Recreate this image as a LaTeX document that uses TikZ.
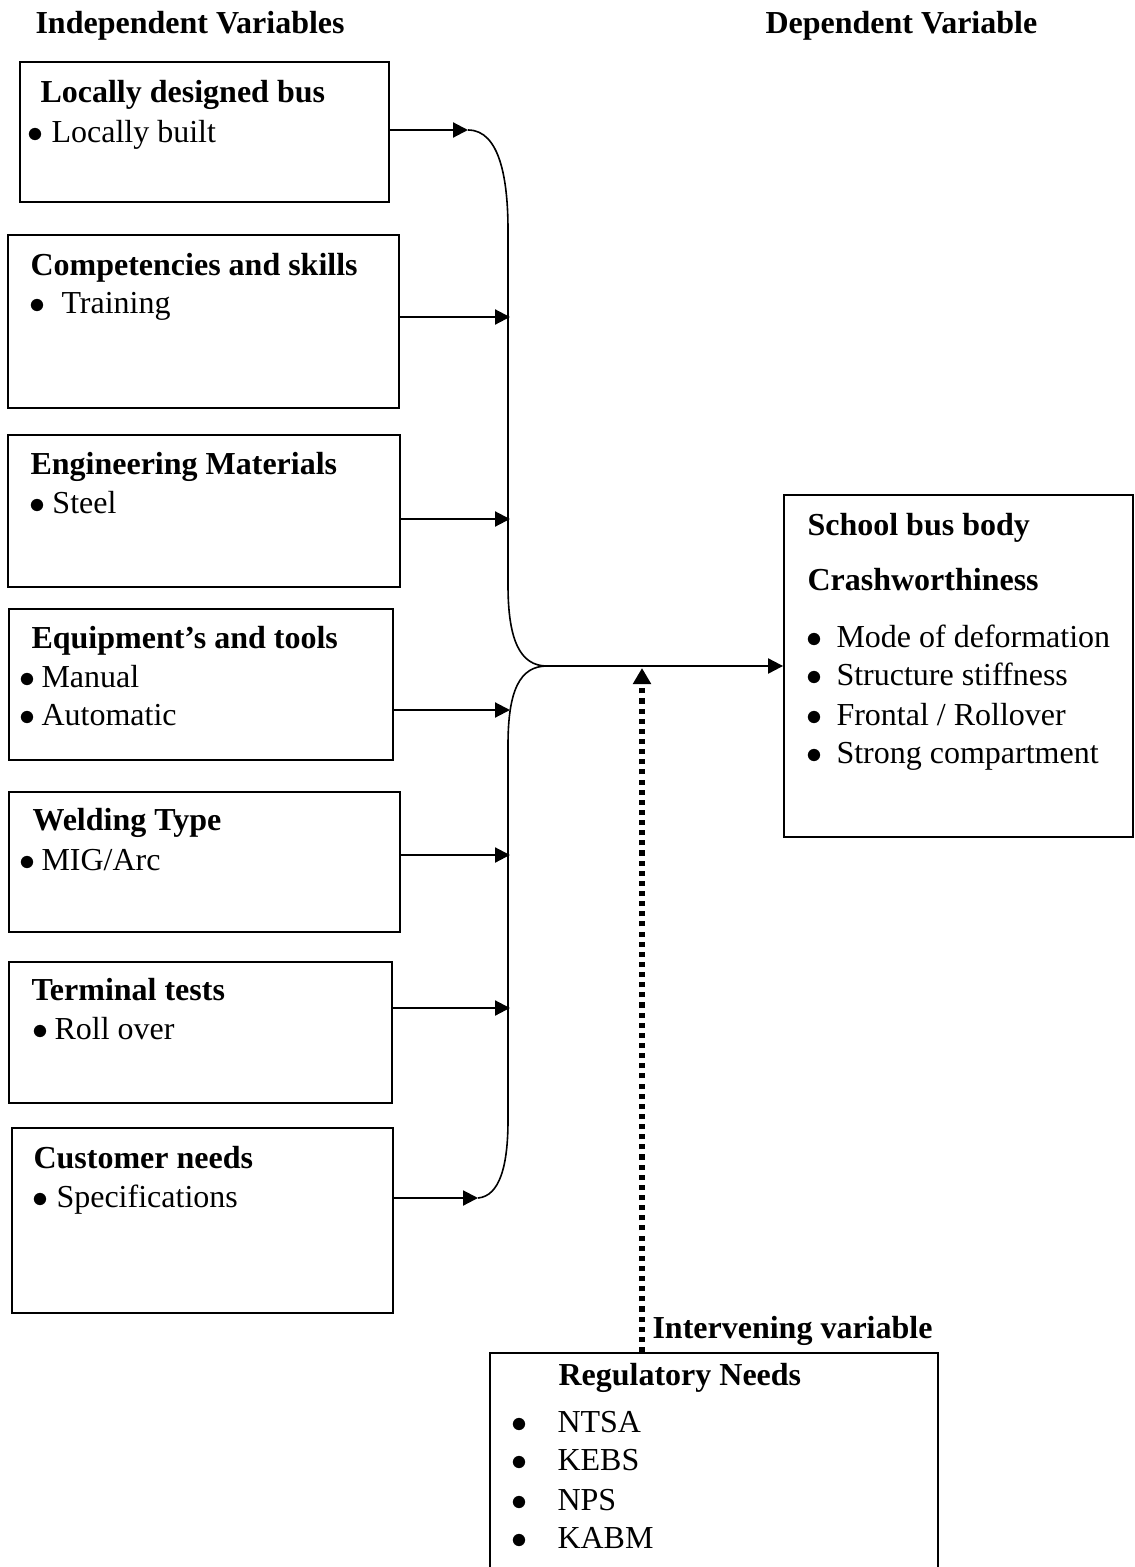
\documentclass[tikz,border=0pt,12pt]{standalone}
\usepackage{fontspec}
\setmainfont{Liberation Serif}
\usetikzlibrary{fit}
\usetikzlibrary{arrows.meta}
\newcommand{\blt}[1]{\makebox[#1][l]{$\bullet$}}

\begin{document}
\begin{tikzpicture}[x=0.375pt, y=-0.375pt]

\tikzstyle{varbox}=[draw=black, line width=0.7pt, inner sep=0pt]
\tikzstyle{boxhead}=[anchor=base west, inner sep=0pt, font=\bfseries]
\tikzstyle{boxitem}=[anchor=base west, inner sep=0pt]
\tikzstyle{feed}=[line width=0.8pt, -{Triangle[length=5.6pt,width=5.6pt]}]

\useasboundingbox (0,0) rectangle (1135,1567);
\clip (0,0) rectangle (1135,1567);

\node[boxhead] (indep) at (35,33) {Independent Variables};
\node[boxhead] (dep) at (765,33) {Dependent Variable};

% independent variables
\node[varbox, fit={(20,62) (389,202)}] (locbus) {};
\node[boxhead] (locbushead) at (40,102) {Locally designed bus};
\node[boxitem] (locbusitem) at (27,142) {\blt{9pt}Locally built};

\node[varbox, fit={(8,235) (399,408)}] (skills) {};
\node[boxhead] (skillshead) at (30,275) {Competencies and skills};
\node[boxitem] (skillsitem) at (29,313) {\blt{12pt}Training};

\node[varbox, fit={(8,435) (400,587)}] (material) {};
\node[boxhead] (materialhead) at (30,474) {Engineering Materials};
\node[boxitem] (materialitem) at (29,513) {\blt{8.6pt}Steel};

\node[varbox, fit={(9,609) (393,760)}] (tools) {};
\node[boxhead] (toolshead) at (31,648) {Equipment’s and tools};
\node[boxitem] (toolsitema) at (19,687) {\blt{8.25pt}Manual};
\node[boxitem] (toolsitemb) at (19,725) {\blt{8.25pt}Automatic};

\node[varbox, fit={(9,792) (400,932)}] (welding) {};
\node[boxhead] (weldinghead) at (32,830) {Welding Type};
\node[boxitem] (weldingitem) at (19,870) {\blt{8.25pt}MIG/Arc};

\node[varbox, fit={(9,962) (392,1103)}] (tests) {};
\node[boxhead] (testshead) at (31,1000) {Terminal tests};
\node[boxitem] (testsitem) at (32,1039) {\blt{8.25pt}Roll over};

\node[varbox, fit={(12,1128) (393,1313)}] (customer) {};
\node[boxhead] (customerhead) at (33,1168) {Customer needs};
\node[boxitem] (customeritem) at (32,1207) {\blt{9pt}Specifications};

% dependent variable
\node[varbox, fit={(784,495) (1133,837)}] (outcome) {};
\node[boxhead] (outcomehead) at (807,535) {School bus body};
\node[boxhead] (outcomesub) at (807,590) {Crashworthiness};
\node[boxitem] (outcomea) at (806,647) {\blt{11.25pt}Mode of deformation};
\node[boxitem] (outcomeb) at (806,685) {\blt{11.25pt}Structure stiffness};
\node[boxitem] (outcomec) at (806,725) {\blt{11.25pt}Frontal / Rollover};
\node[boxitem] (outcomed) at (806,763) {\blt{11.25pt}Strong compartment};

% intervening variable
\node[boxhead] (interv) at (652,1338) {Intervening variable};
\node[varbox, fit={(490,1353) (938,1600)}] (regbox) {};
\node[boxhead] (reghead) at (558,1385) {Regulatory Needs};
\node[boxitem] (rega) at (511,1432) {\blt{17.25pt}NTSA};
\node[boxitem] (regb) at (511,1470) {\blt{17.25pt}KEBS};
\node[boxitem] (regc) at (511,1510) {\blt{17.25pt}NPS};
\node[boxitem] (regd) at (511,1548) {\blt{17.25pt}KABM};

% brace
\coordinate (b1) at (468,130);
\coordinate (b2) at (510,317);
\coordinate (b3) at (510,519);
\coordinate (b4) at (510,710);
\coordinate (b5) at (510,855);
\coordinate (b6) at (510,1008);
\coordinate (b7) at (478,1198);
\coordinate (join) at (547,666);
\coordinate (dtop) at (642,668);

\draw[line width=0.6pt] (b1) .. controls (500,130) and (508,180) .. (508,230)
  -- (508,585) .. controls (508,640) and (520,666) .. (join)
  .. controls (520,666) and (508,690) .. (508,745)
  -- (508,1120) .. controls (508,1165) and (500,1196) .. (b7);

\draw[feed] (locbus.east |- b1) -- (b1);
\draw[feed] (skills.east |- b2) -- (b2);
\draw[feed] (material.east |- b3) -- (b3);
\draw[feed] (tools.east |- b4) -- (b4);
\draw[feed] (welding.east |- b5) -- (b5);
\draw[feed] (tests.east |- b6) -- (b6);
\draw[feed] (customer.east |- b7) -- (b7);
\draw[feed] (join) -- (outcome.west |- join);

\draw[line width=1.9pt, dash pattern=on 1.9pt off 1.9pt,
  -{Triangle[length=6pt,width=6.5pt]}] (dtop |- regbox.north) -- (dtop);

\end{tikzpicture}
\end{document}
